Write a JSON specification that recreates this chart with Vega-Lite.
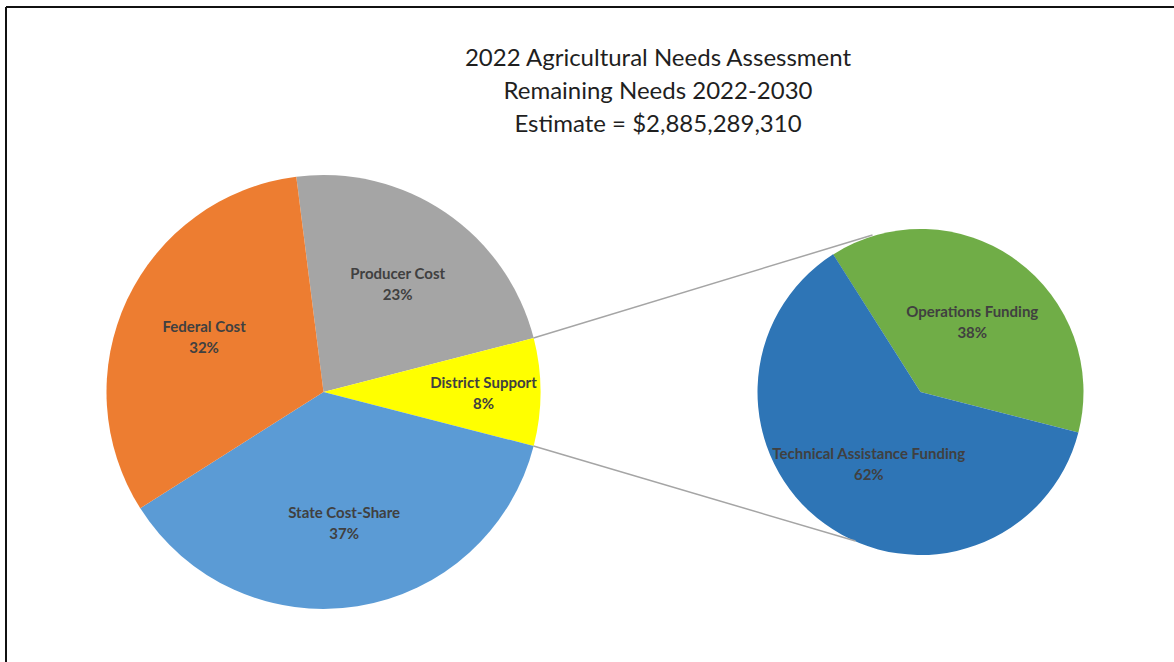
{
  "$schema": "https://vega.github.io/schema/vega-lite/v6.json",
  "width": 1168,
  "height": 655,
  "autosize": {"type": "none"},
  "padding": {"left": 6, "top": 7, "right": 0, "bottom": 0},
  "background": "white",
  "config": {
    "view": {"stroke": "#111111", "strokeWidth": 2, "strokeDash": [1168, 1823, 655, 0]},
    "font": "Lato"
  },
  "title": {
    "text": ["2022 Agricultural Needs Assessment", "Remaining Needs 2022-2030", "Estimate = $2,885,289,310"],
    "font": "Lato",
    "fontSize": 24,
    "fontWeight": "normal",
    "color": "#1f1f1f",
    "lineHeight": 33,
    "anchor": "middle",
    "frame": "group",
    "offset": -130,
    "dx": 68
  },
  "datasets": {
    "main": [
      {"category": "Producer Cost", "share": 23, "i": 1},
      {"category": "District Support", "share": 8, "i": 2},
      {"category": "State Cost-Share", "share": 37, "i": 3},
      {"category": "Federal Cost", "share": 32, "i": 4}
    ],
    "detail": [
      {"category": "Operations Funding", "share": 38, "i": 1},
      {"category": "Technical Assistance Funding", "share": 62, "i": 2}
    ]
  },
  "layer": [
    {
      "data": {"name": "main"},
      "transform": [{"calculate": "datum.category + '\\n' + datum.share + '%'", "as": "label"}],
      "encoding": {
        "x": {"datum": "Total", "type": "nominal", "scale": {"type": "point", "domain": ["Total", "Detail"], "range": [317.5, 914.5], "padding": 0}, "axis": null},
        "y": {"datum": "Total", "type": "nominal", "scale": {"type": "point", "domain": ["Total", "Detail"], "range": [385, 385], "padding": 0}, "axis": null},
        "theta": {"field": "share", "type": "quantitative", "stack": true, "scale": {"range": [-0.12566, 6.15752]}},
        "order": {"field": "i", "type": "quantitative"},
        "detail": {"field": "category", "type": "nominal"}
      },
      "layer": [
        {
          "mark": {"type": "arc", "outerRadius": 217},
          "encoding": {
            "color": {"field": "category", "type": "nominal", "legend": null, "scale": {"domain": ["Producer Cost", "District Support", "State Cost-Share", "Federal Cost", "Operations Funding", "Technical Assistance Funding"], "range": ["#A5A5A5", "#FFFF00", "#5B9BD5", "#ED7D31", "#70AD47", "#2E75B6"]}}
          }
        },
        {
          "mark": {"type": "text", "radius": 132, "dy": -9, "font": "Lato", "fontWeight": "bold", "fontSize": 15, "lineBreak": "\n", "lineHeight": 21, "color": "#404040"},
          "encoding": {"text": {"condition": {"test": "datum.category !== 'District Support'", "field": "label"}, "value": ""}}
        },
        {
          "mark": {"type": "text", "radius": 160, "dy": -9, "font": "Lato", "fontWeight": "bold", "fontSize": 15, "lineBreak": "\n", "lineHeight": 21, "color": "#404040"},
          "encoding": {"text": {"condition": {"test": "datum.category === 'District Support'", "field": "label"}, "value": ""}}
        }
      ]
    },
    {
      "data": {"name": "detail"},
      "transform": [{"calculate": "datum.category + '\\n' + datum.share + '%'", "as": "label"}],
      "encoding": {
        "x": {"datum": "Detail", "type": "nominal", "axis": null},
        "y": {"datum": "Total", "type": "nominal", "axis": null},
        "theta": {"field": "share", "type": "quantitative", "stack": true, "scale": {"range": [-0.5655, 5.7177]}},
        "order": {"field": "i", "type": "quantitative"},
        "detail": {"field": "category", "type": "nominal"}
      },
      "layer": [
        {
          "mark": {"type": "arc", "outerRadius": 163},
          "encoding": {
            "color": {"field": "category", "type": "nominal", "legend": null}
          }
        },
        {
          "mark": {"type": "text", "radius": 88, "dy": -9, "font": "Lato", "fontWeight": "bold", "fontSize": 15, "lineBreak": "\n", "lineHeight": 21, "color": "#404040"},
          "encoding": {"text": {"field": "label", "type": "nominal"}}
        }
      ]
    },
    {
      "data": {"values": [{"link": "upper"}]},
      "mark": {"type": "rule", "color": "#A5A5A5", "strokeWidth": 1.5, "xOffset": 210, "yOffset": -54, "x2Offset": -48, "y2Offset": -157},
      "encoding": {
        "x": {"datum": "Total", "type": "nominal", "axis": null},
        "x2": {"datum": "Detail"},
        "y": {"datum": "Total", "type": "nominal", "axis": null},
        "y2": {"datum": "Total"}
      }
    },
    {
      "data": {"values": [{"link": "lower"}]},
      "mark": {"type": "rule", "color": "#A5A5A5", "strokeWidth": 1.5, "xOffset": 210, "yOffset": 54, "x2Offset": -65, "y2Offset": 149},
      "encoding": {
        "x": {"datum": "Total", "type": "nominal", "axis": null},
        "x2": {"datum": "Detail"},
        "y": {"datum": "Total", "type": "nominal", "axis": null},
        "y2": {"datum": "Total"}
      }
    }
  ],
  "resolve": {"scale": {"theta": "independent"}}
}
